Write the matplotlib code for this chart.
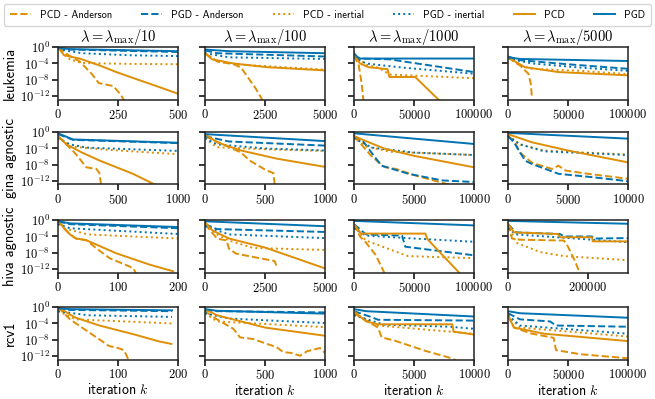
import numpy as np
import matplotlib
matplotlib.use("Agg")
import matplotlib.pyplot as plt
from matplotlib.lines import Line2D

plt.rcParams['font.family'] = ['cmss10', 'DejaVu Sans']
plt.rcParams['mathtext.fontset'] = 'cm'
plt.rcParams['axes.unicode_minus'] = False

ORANGE = '#DE8F05'
BLUE = '#0173B2'

series_names = ["PCD - Anderson", "PGD - Anderson", "PCD - inertial",
                "PGD - inertial", "PCD", "PGD"]
series_color = [ORANGE, BLUE, ORANGE, BLUE, ORANGE, BLUE]
series_style = ['--', '--', ':', ':', '-', '-']

datasets = ["leukemia", "gina agnostic", "hiva agnostic", "rcv1"]
lambda_divs = [10, 100, 1000, 5000]

# x-axis limits and ticks per panel (row, col)
xlims = [[500, 5000, 100000, 100000],
         [1000, 1000, 10000, 10000],
         [200, 5000, 100000, 300000],
         [200, 1000, 10000, 100000]]
xticks = [[[0, 250, 500], [0, 2500, 5000], [0, 50000, 100000], [0, 50000, 100000]],
          [[0, 500, 1000], [0, 500, 1000], [0, 5000, 10000], [0, 5000, 10000]],
          [[0, 100, 200], [0, 2500, 5000], [0, 50000, 100000], [0, 200000]],
          [[0, 100, 200], [0, 500, 1000], [0, 5000, 10000], [0, 50000, 100000]]]

# Each panel: series -> (iterations, log10 of suboptimality)
leukemia_10 = {
    "PCD - Anderson": ([0, 30, 60, 90, 140, 170, 230, 260, 280], [0, -1.5, -2.5, -3.5, -6.5, -8.8, -9.5, -11.5, -13.5]),
    "PGD - Anderson": ([0, 50, 500], [-0.2, -0.6, -1.2]),
    "PCD - inertial": ([0, 20, 50, 100, 300, 500], [0, -1.5, -3, -3.9, -4.1, -4.2]),
    "PGD - inertial": ([0, 100, 300, 500], [-0.5, -1.5, -2.0, -2.2]),
    "PCD": ([0, 25, 90, 174, 243, 340, 424, 500], [0, -2, -2.8, -4.5, -6.1, -8.1, -9.8, -11.4]),
    "PGD": ([0, 50, 500], [-0.2, -0.5, -1.0]),
}
leukemia_100 = {
    "PCD - Anderson": ([0, 500, 1200, 1500, 1800, 2100, 2300, 2450], [-1.5, -3.5, -4.2, -5, -7.5, -10, -12, -13.5]),
    "PGD - Anderson": ([0, 500, 5000], [-0.8, -1.5, -2.3]),
    "PCD - inertial": ([0, 500, 1500, 5000], [-1.5, -3.5, -4.3, -5.5]),
    "PGD - inertial": ([0, 1000, 5000], [-1.5, -2.5, -2.9]),
    "PCD": ([0, 300, 1180, 2570, 5000], [-1.5, -3, -4, -4.9, -5.7]),
    "PGD": ([0, 1000, 5000], [-0.6, -1.0, -1.5]),
}
leukemia_1000 = {
    "PCD - Anderson": ([0, 4000, 6400, 8000], [-2, -4.5, -9, -13.5]),
    "PGD - Anderson": ([0, 5000, 30000, 45500, 73000, 100000], [-2, -2.8, -3.0, -3.7, -4.9, -6.1]),
    "PCD - inertial": ([0, 10000, 20000, 30000, 100000], [-2, -4.3, -5, -6.7, -7.6]),
    "PGD - inertial": ([0, 10000, 40000, 100000], [-2.5, -4, -5, -6.5]),
    "PCD": ([0, 5000, 12000, 28000, 29500, 51000, 71000], [-2, -4, -4.9, -5.4, -7.3, -7.3, -13]),
    "PGD": ([0, 4000, 100000], [-1.5, -2.8, -2.8]),
}
leukemia_5000 = {
    "PCD - Anderson": ([0, 10000, 17000, 19000, 20000], [-2.5, -4.5, -6.5, -9, -12.5]),
    "PGD - Anderson": ([0, 10000, 50000, 100000], [-2.3, -3.2, -4.2, -5.3]),
    "PCD - inertial": ([0, 10000, 20000, 60000, 100000], [-2.5, -4.5, -5.3, -5.8, -6.6]),
    "PGD - inertial": ([0, 20000, 60000, 100000], [-2.8, -4, -5, -5.8]),
    "PCD": ([0, 14000, 42000, 100000], [-2.5, -4.9, -6.1, -6.9]),
    "PGD": ([0, 10000, 100000], [-2.5, -2.9, -3.4]),
}
gina_10 = {
    "PCD - Anderson": ([0, 70, 150, 236, 320, 345, 362], [-1, -3, -5.4, -8.6, -9, -10, -13.5]),
    "PGD - Anderson": ([0, 125, 1000], [-0.5, -1.9, -2.7]),
    "PCD - inertial": ([0, 100, 400, 1000], [-1, -3.5, -4.3, -5.4]),
    "PGD - inertial": ([0, 100, 240, 1000], [-1.5, -3, -3.8, -4.6]),
    "PCD": ([0, 70, 200, 350, 625, 820], [-1, -3, -5, -7, -10.2, -13]),
    "PGD": ([0, 125, 1000], [-0.3, -1.8, -2.6]),
}
gina_100 = {
    "PCD - Anderson": ([0, 150, 300, 375, 514, 570, 583], [-1, -3, -5, -7, -9.4, -10, -13.5]),
    "PGD - Anderson": ([0, 200, 1000], [-1, -2.3, -3.3]),
    "PCD - inertial": ([0, 100, 500, 1000], [-1.5, -3.7, -4.2, -4.6]),
    "PGD - inertial": ([0, 100, 500, 1000], [-1.5, -3, -4, -4.5]),
    "PCD": ([0, 100, 300, 600, 1000], [-0.5, -2.5, -4.5, -6.5, -8.5]),
    "PGD": ([0, 1000], [-0.5, -2.2]),
}
gina_1000 = {
    "PCD - Anderson": ([0, 1500, 2500, 3500, 5000, 7500, 8200], [-1, -6, -8.5, -9, -10.5, -12.5, -13]),
    "PGD - Anderson": ([0, 700, 1760, 2300, 4550, 7350, 10000], [-1, -2, -6.2, -8.2, -10.2, -11.8, -12.2]),
    "PCD - inertial": ([0, 1000, 3000, 10000], [-1, -3.5, -4.8, -5.6]),
    "PGD - inertial": ([0, 1500, 5000, 10000], [-1.5, -3.8, -5, -5.6]),
    "PCD": ([0, 2500, 5000, 10000], [-1, -4, -5.8, -8.6]),
    "PGD": ([0, 10000], [-0.3, -2.9]),
}
gina_5000 = {
    "PCD - Anderson": ([0, 500, 1000, 2000, 3670, 4200, 4800, 6700, 10000], [-1, -2, -5, -7.5, -9, -8.2, -9.4, -10.2, -11.4]),
    "PGD - Anderson": ([0, 500, 900, 1440, 2000, 4220, 7000, 10000], [-1, -2.5, -4.5, -7, -7.8, -10.2, -11, -12]),
    "PCD - inertial": ([0, 1000, 3000, 10000], [-0.8, -3, -4.5, -5.5]),
    "PGD - inertial": ([0, 1000, 3000, 10000], [-1, -3, -4.7, -5.6]),
    "PCD": ([0, 2000, 5000, 10000], [-0.5, -2.5, -4.5, -7.4]),
    "PGD": ([0, 10000], [-0.2, -1.6]),
}
hiva_10 = {
    "PCD - Anderson": ([0, 10, 20, 30, 47, 64, 86, 125, 132], [0, -2, -3.5, -4.5, -4.9, -6.9, -9.3, -11.7, -13.5]),
    "PGD - Anderson": ([0, 20, 200], [-0.3, -1, -2.0]),
    "PCD - inertial": ([0, 10, 50, 200], [0, -2, -3.5, -4.5]),
    "PGD - inertial": ([0, 20, 200], [-1, -2, -3.4]),
    "PCD": ([0, 10, 20, 30, 47, 97, 153, 192], [0, -2, -3.5, -4.5, -4.9, -8.1, -10.9, -12.5]),
    "PGD": ([0, 20, 200], [-0.3, -0.8, -1.7]),
}
hiva_100 = {
    "PCD - Anderson": ([0, 500, 900, 1000, 1300, 2000, 2900, 3000], [-1, -4.5, -5, -7, -8.2, -9, -10, -11.5]),
    "PGD - Anderson": ([0, 500, 5000], [-1, -2.2, -2.9]),
    "PCD - inertial": ([0, 500, 1000, 2000, 5000], [-1, -3.5, -5, -6.8, -7.3]),
    "PGD - inertial": ([0, 1000, 5000], [-1.5, -3.5, -4.4]),
    "PCD": ([0, 300, 1000, 2500, 5000], [-0.5, -2.5, -4.5, -6.7, -11.8]),
    "PGD": ([0, 5000], [-0.3, -1.5]),
}
hiva_1000 = {
    "PCD - Anderson": ([0, 5000, 10000, 18000, 25500], [-1, -4, -5.5, -8.5, -13]),
    "PGD - Anderson": ([0, 10000, 40000, 42700, 100000], [-1, -3.5, -3.8, -6.5, -8.6]),
    "PCD - inertial": ([0, 10000, 45000, 100000], [-1.5, -5, -8.8, -9.3]),
    "PGD - inertial": ([0, 10000, 50000, 100000], [-2, -3.8, -4.5, -5.3]),
    "PCD": ([0, 5000, 6000, 59500, 61000, 87500], [-1, -3, -3.3, -3.3, -4.6, -12.8]),
    "PGD": ([0, 100000], [-0.2, -1.3]),
}
hiva_5000 = {
    "PCD - Anderson": ([0, 10000, 30000, 140000, 150000, 165000, 180000], [-1, -4.5, -4.8, -5, -6.5, -9.5, -13]),
    "PGD - Anderson": ([0, 20000, 130000, 140000, 210000, 215000, 300000], [-1, -3, -3.4, -4, -4, -4.5, -4.4]),
    "PCD - inertial": ([0, 20000, 80000, 140000, 300000], [-1, -5.5, -7.8, -8.8, -9.8]),
    "PGD - inertial": ([0, 20000, 300000], [-2, -3.5, -5.4]),
    "PCD": ([0, 15000, 125000, 130000, 210000, 212000, 300000], [-0.8, -3, -3.4, -4.2, -4.2, -5.2, -5.2]),
    "PGD": ([0, 300000], [-0.2, -0.9]),
}
rcv1_10 = {
    "PCD - Anderson": ([0, 20, 30, 50, 70, 85, 100, 110, 118], [0, -3, -4, -6, -8, -9.5, -10, -10.5, -13]),
    "PGD - Anderson": ([0, 20, 190], [-0.3, -0.7, -1.0]),
    "PCD - inertial": ([0, 30, 190], [-1, -3, -4]),
    "PGD - inertial": ([0, 50, 190], [-1, -2, -2.4]),
    "PCD": ([0, 28, 69, 125, 169, 189], [0, -2.5, -4.5, -6.6, -8.4, -9.0]),
    "PGD": ([0, 20, 190], [-0.3, -0.5, -0.8]),
}
rcv1_100 = {
    "PCD - Anderson": ([0, 100, 236, 292, 400, 597, 653, 720, 792, 850, 958, 1000],
                       [-1, -3, -5.3, -7.4, -7.8, -9.8, -11, -11.2, -11.9, -10.8, -10, -11.2]),
    "PGD - Anderson": ([0, 100, 1000], [-0.8, -1.0, -1.3]),
    "PCD - inertial": ([0, 100, 1000], [-1.5, -3.5, -4.9]),
    "PGD - inertial": ([0, 200, 1000], [-1.5, -2.8, -3.9]),
    "PCD": ([0, 100, 500, 1000], [-0.5, -2, -5, -7]),
    "PGD": ([0, 100, 1000], [-0.5, -0.9, -1.6]),
}
rcv1_1000 = {
    "PCD - Anderson": ([0, 2000, 2300, 3400, 5950, 7900, 8500], [-1.5, -5, -7.4, -8.2, -10.7, -12.3, -13]),
    "PGD - Anderson": ([0, 1500, 2000, 10000], [-1, -2.5, -3.1, -3.3]),
    "PCD - inertial": ([0, 2000, 10000], [-1.5, -4.5, -6.5]),
    "PGD - inertial": ([0, 2500, 8000, 10000], [-2, -4.3, -4.8, -5.3]),
    "PCD": ([0, 1000, 2000, 8200, 8300, 10000], [-1, -3.5, -4.2, -4.2, -6, -6.7]),
    "PGD": ([0, 1000, 10000], [-0.5, -1, -2.3]),
}
rcv1_5000 = {
    "PCD - Anderson": ([0, 5000, 20000, 38000, 39000, 40000, 60000, 100000], [-2, -5, -6.5, -7.5, -9, -10.5, -11.5, -12.5]),
    "PGD - Anderson": ([0, 10000, 20000, 35000, 40000, 100000], [-1.5, -3, -3.2, -3.5, -4.5, -4.8]),
    "PCD - inertial": ([0, 10000, 100000], [-2, -5, -7.2]),
    "PGD - inertial": ([0, 10000, 100000], [-2, -4.5, -6.5]),
    "PCD": ([0, 5000, 30000, 100000], [-2, -5, -6.5, -8.3]),
    "PGD": ([0, 10000, 100000], [-1, -1.5, -2.6]),
}

panels = [[leukemia_10, leukemia_100, leukemia_1000, leukemia_5000],
          [gina_10, gina_100, gina_1000, gina_5000],
          [hiva_10, hiva_100, hiva_1000, hiva_5000],
          [rcv1_10, rcv1_100, rcv1_1000, rcv1_5000]]

W, H = 655, 399
fig = plt.figure(figsize=(W / 100, H / 100), dpi=100)

lefts = [58, 205, 354, 508]
tops = [47, 132, 220, 307]
aw, ah = 120, 52.5

for r in range(4):
    for c in range(4):
        ax = fig.add_axes([lefts[c] / W, (H - tops[r] - ah) / H, aw / W, ah / H])
        pdata = panels[r][c]
        for name, col, ls in zip(series_names, series_color, series_style):
            xs, ly = pdata[name]
            ax.semilogy(xs, 10.0 ** np.array(ly), color=col, ls=ls, lw=1.4)
        ax.set_xlim(0, xlims[r][c])
        ax.set_ylim(10 ** -12.8, 10 ** 0.02)
        ax.set_yticks([1e0, 1e-4, 1e-8, 1e-12])
        ax.yaxis.set_minor_locator(matplotlib.ticker.NullLocator())
        ax.set_xticks(xticks[r][c])
        ax.set_xticklabels([r"$\mathrm{%d}$" % v for v in xticks[r][c]], fontsize=9)
        if c == 0:
            ax.set_yticklabels([r"$\mathrm{10^{%d}}$" % e for e in [0, -4, -8, -12]], fontsize=9)
            ax.set_ylabel(datasets[r], fontsize=10.5, labelpad=2)
        else:
            ax.set_yticklabels([])
        ax.tick_params(axis='both', direction='out', length=4, width=1.1, pad=2,
                       top=False, right=False)
        for sp in ax.spines.values():
            sp.set_linewidth(1.1)
            sp.set_color('#222222')
        if r == 0:
            ax.set_title(r"$\lambda = \lambda_{\mathrm{max}}/%d$" % lambda_divs[c], fontsize=10.5, pad=2)
        if r == 3:
            ax.set_xlabel(r"iteration $k$", fontsize=10, labelpad=1)

handles = [Line2D([], [], color=col, ls=ls, lw=1.4)
           for col, ls in zip(series_color, series_style)]
fig.legend(handles, series_names, loc='upper left', ncol=6,
           bbox_to_anchor=(2 / W, 1 - 2 / H, 651 / W, 0), mode='expand',
           fontsize=7.5, frameon=True, handlelength=2.0, borderaxespad=0.2,
           borderpad=0.55, handletextpad=0.9, columnspacing=1.0)

fig.savefig("out.png", dpi=100)
